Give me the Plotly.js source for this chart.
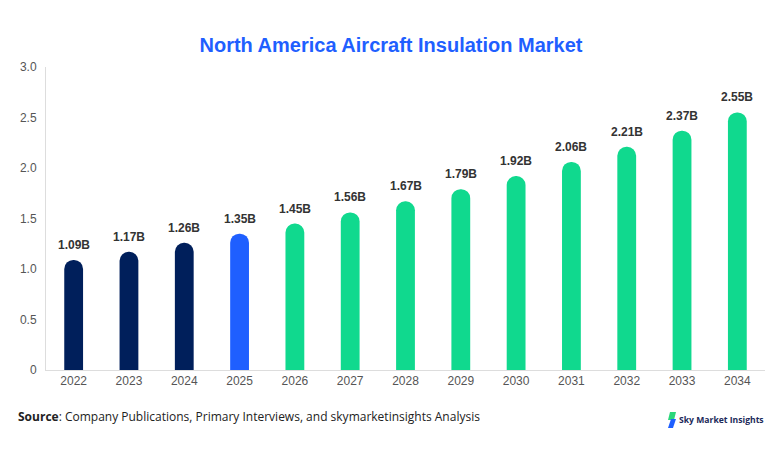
<!DOCTYPE html>
<html>
<head>
<meta charset="utf-8">
<script src="https://cdn.plot.ly/plotly-3.0.1.min.js"></script>
<style>html,body{margin:0;padding:0;background:#fff;}#chart{width:782px;height:454px;}</style>
</head>
<body>
<div id="chart"></div>
<script>
const years = ["2022","2023","2024","2025","2026","2027","2028","2029","2030","2031","2032","2033","2034"];
const values = [1.09,1.17,1.26,1.35,1.45,1.56,1.67,1.79,1.92,2.06,2.21,2.37,2.55];
const valueLabels = ["1.09B","1.17B","1.26B","1.35B","1.45B","1.56B","1.67B","1.79B","1.92B","2.06B","2.21B","2.37B","2.55B"];
const barColors = ["#001f5b","#001f5b","#001f5b","#1f5fff","#10d98e","#10d98e","#10d98e","#10d98e","#10d98e","#10d98e","#10d98e","#10d98e","#10d98e"];
const yTickVals = [0,0.5,1,1.5,2,2.5,3];
const yTickText = ["0","0.5","1.0","1.5","2.0","2.5","3.0"];

const trace = {
  type: "bar",
  x: years,
  y: values,
  marker: {color: barColors, cornerradius: "50%", line: {width: 0}},
  hoverinfo: "x+y"
};

const labelFont = "Liberation Sans, Arial, sans-serif";

const annotations = years.map((yr, i) => ({
  x: i, y: values[i], xref: "x", yref: "y",
  text: "<b>" + valueLabels[i] + "</b>", showarrow: false,
  yanchor: "bottom", yshift: 6,
  font: {family: labelFont, size: 12, color: "#333333"}
}));

annotations.push({
  xref: "paper", yref: "paper", x: -0.042, y: -0.155, xanchor: "left", yanchor: "middle",
  text: "<b>Source</b>: Company Publications, Primary Interviews, and skymarketinsights Analysis",
  showarrow: false, font: {family: "Open Sans, Noto Sans, sans-serif", size: 12, color: "#222222"}
});
annotations.push({
  xref: "paper", yref: "paper", x: 1.002, y: -0.165, xanchor: "right", yanchor: "middle",
  text: "<b>Sky Market Insights</b>", showarrow: false,
  font: {family: "Open Sans, Noto Sans, sans-serif", size: 8.6, color: "#1c2a5a"}
});

const layout = {
  width: 782, height: 454,
  margin: {l: 46, r: 17, t: 67, b: 84},
  paper_bgcolor: "#ffffff", plot_bgcolor: "#ffffff",
  title: {text: "<b>North America Aircraft Insulation Market</b>", x: 0.5, xanchor: "center", y: 0.9, yanchor: "middle",
    font: {family: labelFont, size: 20, color: "#1f5fff"}},
  bargap: 0.66,
  showlegend: false,
  xaxis: {
    type: "category", range: [-0.5, 12.5], showline: true, linecolor: "#dddddd", linewidth: 1,
    showgrid: false, zeroline: false, ticks: "",
    tickfont: {family: labelFont, size: 12, color: "#555555"}
  },
  yaxis: {
    range: [0, 3], tickvals: yTickVals, ticktext: yTickText,
    showline: true, linecolor: "#dddddd", linewidth: 1,
    showgrid: false, zeroline: false, ticks: "", ticklabelstandoff: 6,
    tickfont: {family: labelFont, size: 12, color: "#555555"}
  },
  annotations: annotations,
  shapes: [
    {type: "path", xref: "paper", yref: "paper", layer: "above",
     path: "M 0.8679 -0.1386 L 0.8762 -0.1386 L 0.8734 -0.1650 L 0.8651 -0.1650 Z", fillcolor: "#2bd67b", line: {width: 0}},
    {type: "path", xref: "paper", yref: "paper", layer: "above",
     path: "M 0.8693 -0.1617 L 0.8762 -0.1617 L 0.8720 -0.1914 L 0.8651 -0.1914 Z", fillcolor: "#1f5fff", line: {width: 0}}
  ]
};

Plotly.newPlot("chart", [trace], layout, {displayModeBar: false, staticPlot: true});
</script>
</body>
</html>
